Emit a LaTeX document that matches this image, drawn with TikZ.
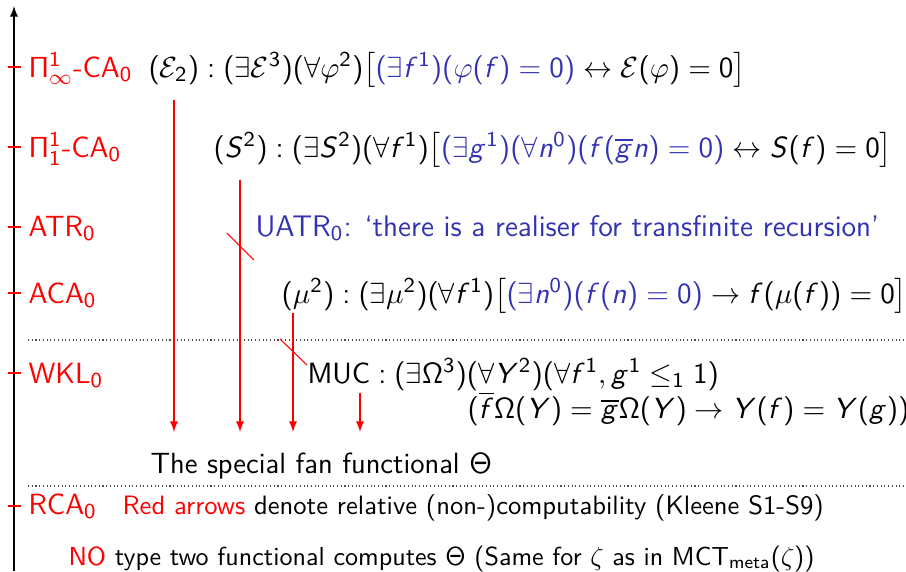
\documentclass[tikz,border=0pt]{standalone}
\usepackage{amsmath,amssymb}
\usepackage{graphicx}
% sans serif math letters, as on a beamer slide
\SetSymbolFont{operators}{normal}{OT1}{cmss}{m}{n}
\DeclareSymbolFont{sfletters}{OT1}{cmss}{m}{sl}
\DeclareMathSymbol{f}{\mathalpha}{sfletters}{`f}
\DeclareMathSymbol{g}{\mathalpha}{sfletters}{`g}
\DeclareMathSymbol{n}{\mathalpha}{sfletters}{`n}
\DeclareMathSymbol{S}{\mathalpha}{sfletters}{`S}
\DeclareMathSymbol{Y}{\mathalpha}{sfletters}{`Y}
\definecolor{structblue}{rgb}{0.2,0.2,0.7}
\tikzset{
  sys/.style={anchor=base west,inner sep=0pt,text=red},
  fml/.style={anchor=base west,inner sep=0pt},
  notefml/.style={fml,font=\fontsize{10}{12}\selectfont\sffamily},
  tickmark/.style={red},
  redarrow/.style={->,red},
  sepline/.style={densely dotted,black!70},
}

\begin{document}
\begin{tikzpicture}[font=\fontsize{11}{13}\selectfont\sffamily,>=latex,x=0.376pt,y=-0.376pt]
    \useasboundingbox (0,0) rectangle (906,571);
    % strength axis
    \draw[->] (14,571) -- (14,6);
    \foreach \y in {67,147,227,293,373,506}
        \draw[tickmark] (8,\y) -- (21,\y);

    \node[sys] (pinf) at (28,77) {$\Pi^1_\infty$-CA$_0$};
    \node[sys] (pone) at (28,157) {$\Pi^1_1$-CA$_0$};
    \node[sys] (atr) at (28,236) {ATR$_0$};
    \node[sys] (aca) at (28,303) {ACA$_0$};
    \node[sys] (wkl) at (28,383) {WKL$_0$};
    \node[sys] (rca) at (28,514) {RCA$_0$};

    % functionals
    \node[fml] (e2) at (148,77)
        {$(\mathcal{E}_2) : (\exists \mathcal{E}^3)(\forall\varphi^2)\big[\textcolor{structblue}{(\exists f^1)(\varphi(f)=0)} \leftrightarrow \mathcal{E}(\varphi)=0\big]$};
    \node[fml] (s2) at (213,157)
        {$(S^2) : (\exists S^2)(\forall f^1)\big[\textcolor{structblue}{(\exists g^1)(\forall n^0)(f(\overline{g}n)=0)} \leftrightarrow S(f)=0\big]$};
    \node[fml,text=structblue,font=\fontsize{11.2}{13}\selectfont\sffamily] (uatr) at (255,236)
        {UATR$_0$: `there is a realiser for transfinite recursion'};
    \node[fml] (mu2) at (281,303)
        {$(\mu^2) : (\exists\mu^2)(\forall f^1)\big[\textcolor{structblue}{(\exists n^0)(f(n)=0)} \to f(\mu(f))=0\big]$};
    \node[fml] (muc) at (307,383)
        {$\text{MUC} : (\exists\Omega^3)(\forall Y^2)(\forall f^1, g^1\leq_1 1)$};
    \node[fml] (muc2) at (467,418)
        {$(\overline{f}\Omega(Y) = \overline{g}\Omega(Y) \to Y(f)=Y(g))$};

    \draw[sepline] (28,340) -- (906,340);
    \node[fml] (fan) at (150,473) {The special fan functional $\Theta$};
    \draw[sepline] (28,486) -- (906,486);

    \node[notefml] (note) at (122,514)
        {\textcolor{red}{Red arrows} denote relative (non-)computability (Kleene S1-S9)};
    \node[notefml] (nope) at (68,565)
        {\scalebox{0.98}{\textcolor{red}{NO} type two functional computes $\Theta$ (Same for $\zeta$ as in $\text{MCT}_{\text{meta}}(\zeta)$)}};

    % computability arrows
    \foreach \x/\ya [count=\i] in {174/100,240/180,293/313,360/393} {
        \coordinate (from\i) at (\x,\ya);
        \coordinate (to\i) at (\x,432);
        \draw[redarrow] (from\i) -- (to\i);
    }
    \draw[red] (227,233) -- (254,260);
    \draw[red] (280,339) -- (307,365);
\end{tikzpicture}
\end{document}
